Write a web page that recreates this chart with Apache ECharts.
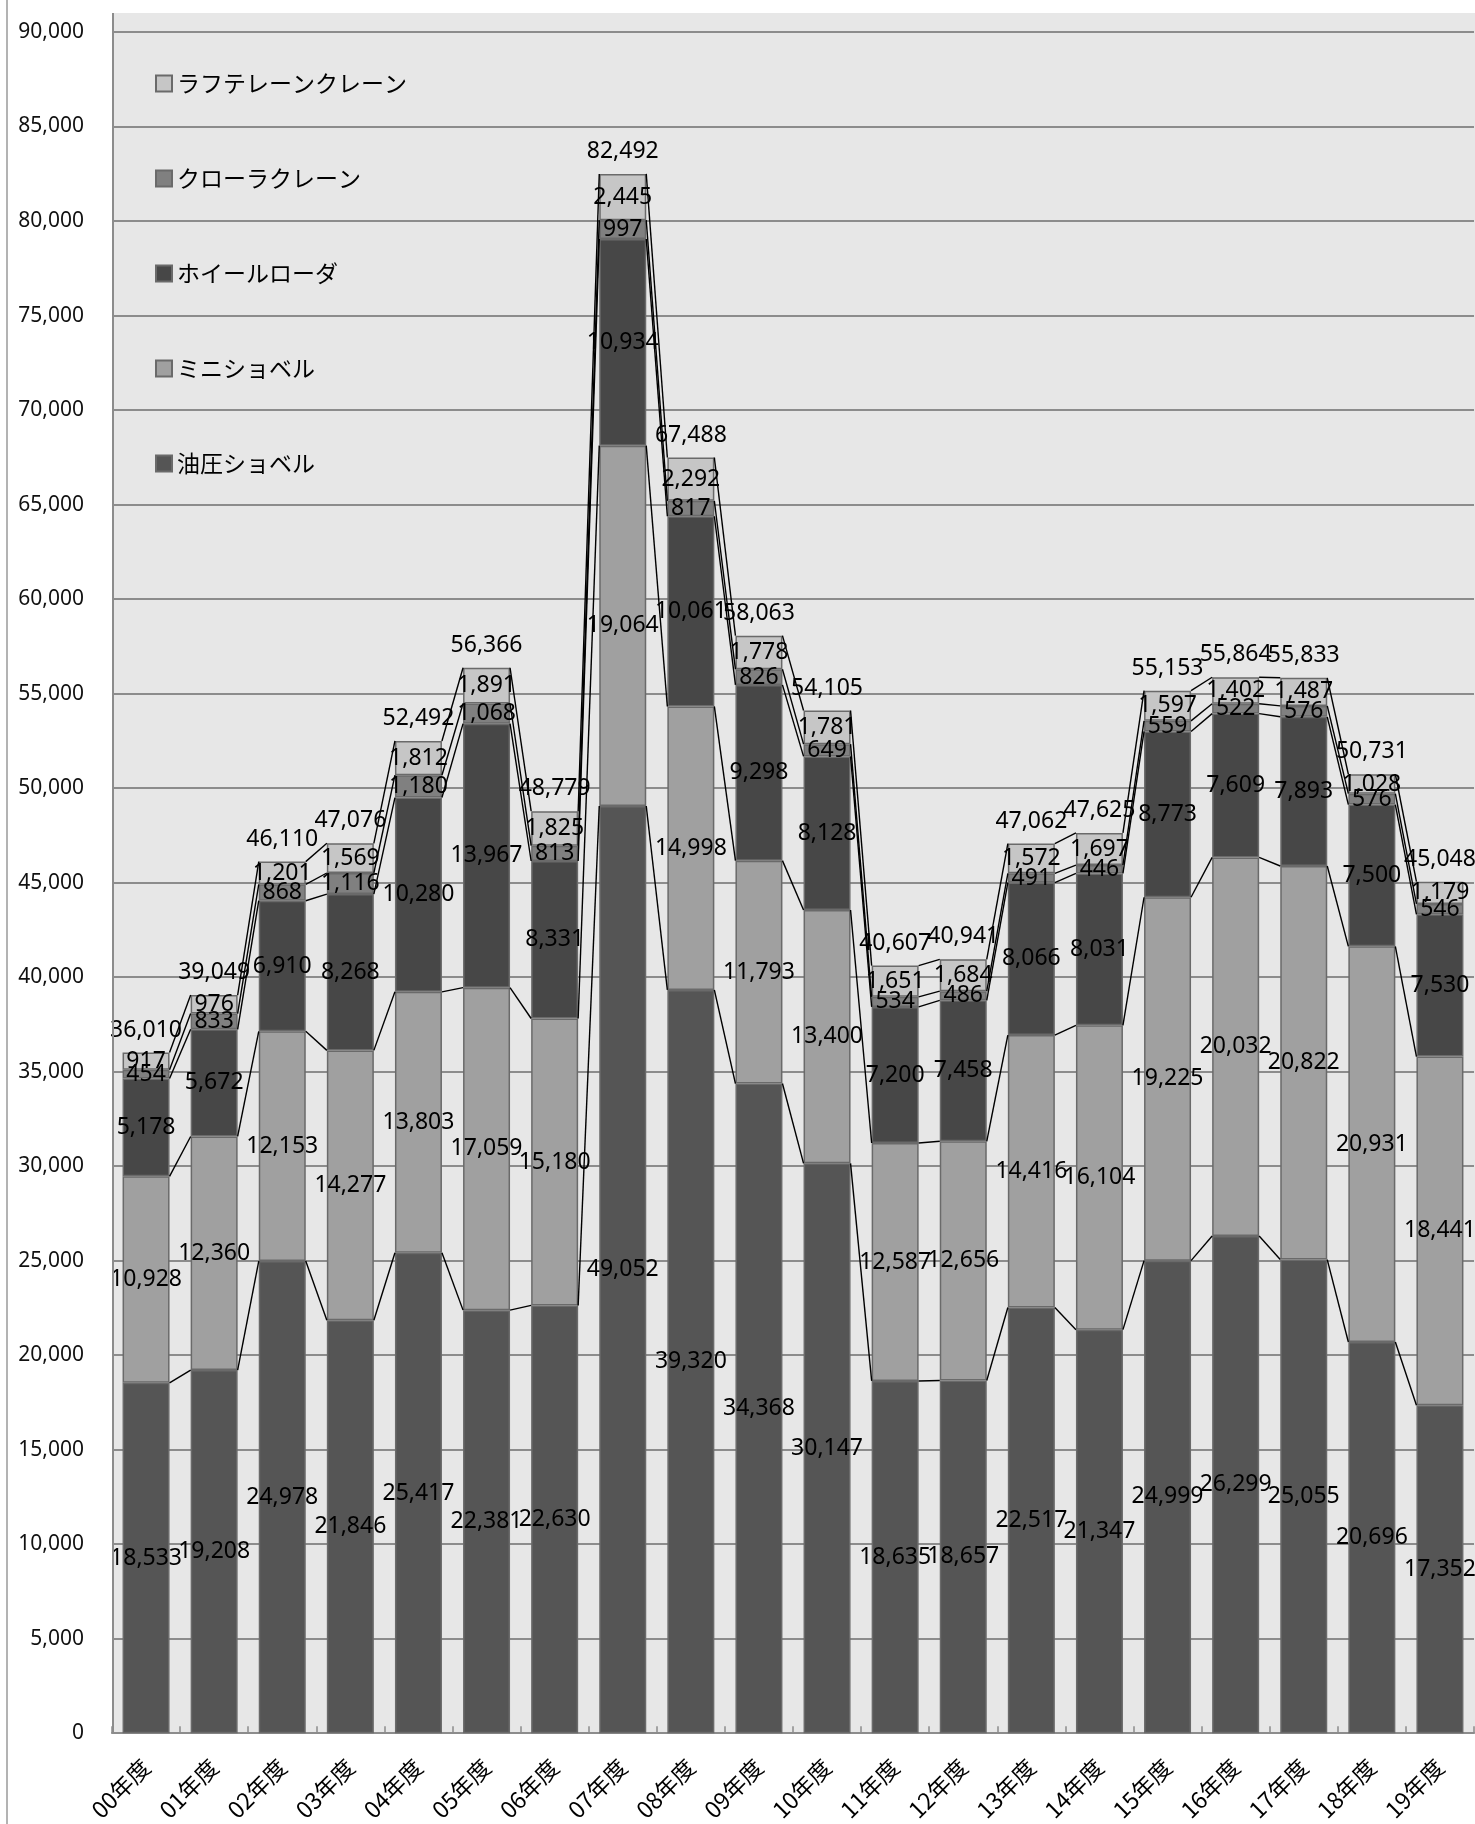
<!DOCTYPE html>
<html>
<head>
<meta charset="utf-8">
<script src="https://cdn.jsdelivr.net/npm/echarts@6/dist/echarts.min.js"></script>
<style>
  html, body { margin: 0; padding: 0; background: #fff; }
  #chart { width: 1475px; height: 1824px; }
</style>
</head>
<body>
<div id="chart"></div>
<script>
// 年度
const years = ['00年度','01年度','02年度','03年度','04年度','05年度','06年度','07年度','08年度','09年度',
               '10年度','11年度','12年度','13年度','14年度','15年度','16年度','17年度','18年度','19年度'];

// 機種別の値（下から積み上げ）
const hydraulic = [18533,19208,24978,21846,25417,22381,22630,49052,39320,34368,30147,18635,18657,22517,21347,24999,26299,25055,20696,17352];
const mini      = [10928,12360,12153,14277,13803,17059,15180,19064,14998,11793,13400,12587,12656,14416,16104,19225,20032,20822,20931,18441];
const wheel     = [5178,5672,6910,8268,10280,13967,8331,10934,10061,9298,8128,7200,7458,8066,8031,8773,7609,7893,7500,7530];
const crawler   = [454,833,868,1116,1180,1068,813,997,817,826,649,534,486,491,446,559,522,576,576,546];
const rough     = [917,976,1201,1569,1812,1891,1825,2445,2292,1778,1781,1651,1684,1572,1697,1597,1402,1487,1028,1179];

const yTicks = { min: 0, max: 90000, step: 5000 };

const stacks = [
  { name: '油圧ショベル', data: hydraulic, color: '#555555' },
  { name: 'ミニショベル', data: mini, color: '#a0a0a0' },
  { name: 'ホイールローダ', data: wheel, color: '#474747' },
  { name: 'クローラクレーン', data: crawler, color: '#808080' },
  { name: 'ラフテレーンクレーン', data: rough, color: '#c6c6c6' }
];

// 積み上げの上端（区分線用）と合計
const tops = [];
let run = years.map(() => 0);
stacks.forEach(s => {
  run = run.map((v, i) => v + s.data[i]);
  tops.push(run.slice());
});
const totals = tops[tops.length - 1];

const fmt = v => Number(v).toLocaleString('en-US');
const numFont = '"Noto Sans", "Noto Sans CJK JP", sans-serif';
const jpFont = '"Noto Sans CJK JP", "Noto Sans", sans-serif';
const barW = 47;

const chart = echarts.init(document.getElementById('chart'));

const series = stacks.map(s => ({
  name: s.name,
  type: 'bar',
  stack: 'total',
  barWidth: barW,
  data: s.data,
  itemStyle: { color: s.color, borderColor: '#6a6a6a', borderWidth: 1.5 },
  label: {
    show: true,
    position: 'inside',
    color: '#000',
    fontSize: 23,
    fontFamily: numFont,
    formatter: p => fmt(p.value)
  },
  z: 2
}));

// 区分線
series.push({
  type: 'custom',
  name: 'series-lines',
  data: years.slice(0, -1).map((_, i) => [i, 0]),
  encode: { x: 0, y: 1 },
  silent: true,
  z: 5,
  renderItem: (params, api) => {
    const i = api.value(0);
    return {
      type: 'group',
      children: tops.map(t => {
        const a = api.coord([i, t[i]]);
        const b = api.coord([i + 1, t[i + 1]]);
        return {
          type: 'line',
          shape: { x1: a[0] + barW / 2, y1: a[1], x2: b[0] - barW / 2, y2: b[1] },
          style: { stroke: '#000', lineWidth: 1.4 }
        };
      })
    };
  }
});

// 合計ラベル
series.push({
  type: 'scatter',
  name: 'total',
  data: totals.map((t, i) => [i, t]),
  symbolSize: 0,
  silent: true,
  itemStyle: { opacity: 1, color: 'transparent' },
  label: {
    show: true,
    position: 'top',
    distance: 11,
    color: '#000',
    fontSize: 23,
    fontFamily: numFont,
    formatter: p => fmt(p.value[1])
  },
  z: 6
});

chart.setOption({
  animation: false,
  backgroundColor: '#fff',
  graphic: [
    { type: 'rect', z: -10, shape: { x: 112, y: 13, width: 1363, height: 1721 }, style: { fill: '#e7e7e7' } },
    { type: 'line', z: 10, shape: { x1: 113, y1: 13, x2: 113, y2: 1734 }, style: { stroke: '#8c8c8c', lineWidth: 2 } },
    { type: 'line', z: 10, shape: { x1: 7, y1: 0, x2: 7, y2: 1824 }, style: { stroke: '#9a9a9a', lineWidth: 1.5 } }
  ],
  grid: { left: 112, right: 1, top: 32, bottom: 90 },
  legend: {
    orient: 'vertical',
    left: 150,
    top: 67,
    icon: 'rect',
    itemWidth: 16,
    itemHeight: 16,
    itemGap: 72,
    data: ['ラフテレーンクレーン', 'クローラクレーン', 'ホイールローダ', 'ミニショベル', '油圧ショベル'],
    textStyle: { fontSize: 23, fontFamily: jpFont, color: '#000', lineHeight: 23 }
  },
  xAxis: {
    type: 'category',
    data: years,
    axisLine: { lineStyle: { color: '#8c8c8c', width: 2 } },
    axisTick: { show: true, inside: true, length: 7, lineStyle: { color: '#8c8c8c', width: 1.5 } },
    axisLabel: { rotate: 45, fontSize: 23, fontFamily: jpFont, color: '#000', margin: 30, interval: 0 }
  },
  yAxis: {
    type: 'value',
    min: yTicks.min,
    max: yTicks.max,
    interval: yTicks.step,
    axisLine: { show: false },
    axisTick: { show: false },
    splitLine: { lineStyle: { color: '#8c8c8c', width: 2 } },
    axisLabel: { fontSize: 21, fontFamily: numFont, color: '#111', margin: 28, formatter: v => fmt(v) }
  },
  series: series
});
</script>
</body>
</html>
